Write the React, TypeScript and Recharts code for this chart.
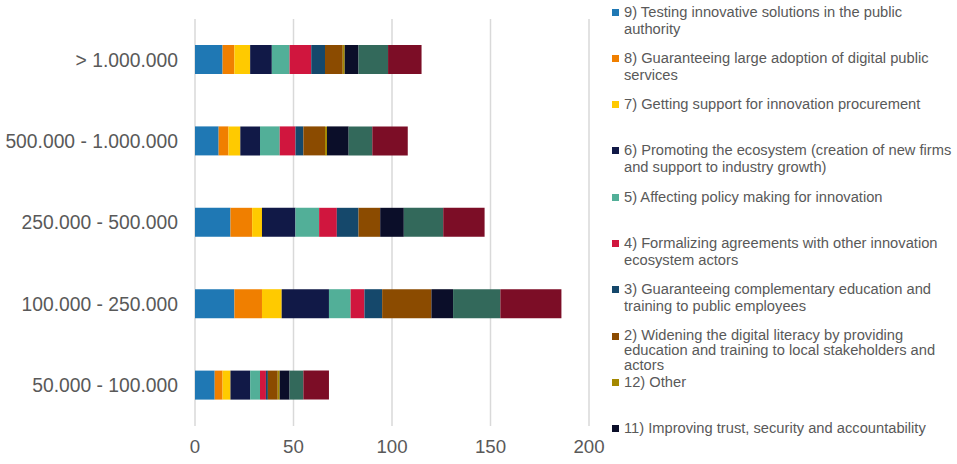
import { BarChart, Bar, XAxis, YAxis, CartesianGrid } from 'recharts'

const categories = ['> 1.000.000', '500.000 - 1.000.000', '250.000 - 500.000', '100.000 - 250.000', '50.000 - 100.000']

const s9 = [14, 12, 18, 20, 10]
const s8 = [6, 5, 11, 14, 4]
const s7 = [8, 6, 5, 10, 4]
const s6 = [11, 10, 17, 24, 10]
const s5 = [9, 10, 12, 11, 5]
const s4 = [11, 8, 9, 7, 3]
const s3 = [7, 4, 11, 9, 1]
const s2 = [9, 11, 11, 25, 5]
const s12 = [1, 1, 0, 0, 1]
const s11 = [7, 11, 12, 11, 5]
const s10 = [15, 12, 20, 24, 7]
const s1 = [17, 18, 21, 31, 13]

const xTicks = [0, 50, 100, 150, 200]

// stacking order, left to right
const series = [
  { key: 's9', values: s9, color: '#1F78B4', name: '9) Testing innovative solutions in the public authority' },
  { key: 's8', values: s8, color: '#F07F00', name: '8) Guaranteeing large adoption of digital public services' },
  { key: 's7', values: s7, color: '#FFCA00', name: '7) Getting support for innovation procurement' },
  { key: 's6', values: s6, color: '#111947', name: '6) Promoting the ecosystem (creation of new firms and support to industry growth)' },
  { key: 's5', values: s5, color: '#52AF98', name: '5) Affecting policy making for innovation' },
  { key: 's4', values: s4, color: '#D0163E', name: '4) Formalizing agreements with other innovation ecosystem actors' },
  { key: 's3', values: s3, color: '#15486B', name: '3) Guaranteeing complementary education and training to public employees' },
  { key: 's2', values: s2, color: '#8B4B00', name: '2) Widening the digital literacy by providing education and training to local stakeholders and actors' },
  { key: 's12', values: s12, color: '#A48800', name: '12) Other' },
  { key: 's11', values: s11, color: '#0B0E29', name: '11) Improving trust, security and accountability' },
  { key: 's10', values: s10, color: '#33695B', name: '10)' },
  { key: 's1', values: s1, color: '#7C0D26', name: '1)' },
]

// only the first ten entries fit in the legend box
const legendCount = 10

const data = categories.map((cat, i) => {
  const row: Record<string, string | number> = { cat }
  series.forEach((s) => {
    row[s.key] = s.values[i]
  })
  return row
})

const font = '"Liberation Sans", Arial, sans-serif'

export default function App() {
  return (
    <div style={{ position: 'absolute', left: 0, top: 0, width: 957, height: 464, background: '#fff', fontFamily: font }}>
      <BarChart
        width={957}
        height={464}
        data={data}
        layout="vertical"
        margin={{ top: 19, right: 368, bottom: 8, left: 0 }}
      >
        <CartesianGrid horizontal={false} stroke="#D9D9D9" strokeWidth={1.5} />
        <XAxis
          type="number"
          domain={[0, 200]}
          ticks={xTicks}
          axisLine={false}
          tickLine={false}
          tickMargin={8}
          tick={{ fill: '#595959', fontSize: 18.7, fontFamily: font }}
        />
        <YAxis
          type="category"
          dataKey="cat"
          width={195}
          axisLine={false}
          tickLine={false}
          tickMargin={11}
          tick={{ fill: '#595959', fontSize: 19.3, fontFamily: font }}
        />
        {series.map((s) => (
          <Bar
            key={s.key}
            dataKey={s.key}
            name={s.name}
            stackId="a"
            fill={s.color}
            barSize={29}
            isAnimationActive={false}
          />
        ))}
      </BarChart>
      {series.slice(0, legendCount).map((s, i) => (
        <div
          key={s.key}
          style={{
            position: 'absolute',
            left: 612,
            top: 3.5 + i * 46.3,
            width: 345,
            display: 'flex',
            alignItems: 'flex-start',
            fontSize: 14.7,
            // the three-line entry is squeezed a little so it does not run into the next one
            lineHeight: s.key === 's2' ? '15.4px' : '17px',
            color: '#595959',
          }}
        >
          <span style={{ width: 7, height: 7, background: s.color, marginTop: 5, marginRight: 5, flex: 'none' }} />
          <span style={{ width: 334 }}>{s.name}</span>
        </div>
      ))}
    </div>
  )
}
